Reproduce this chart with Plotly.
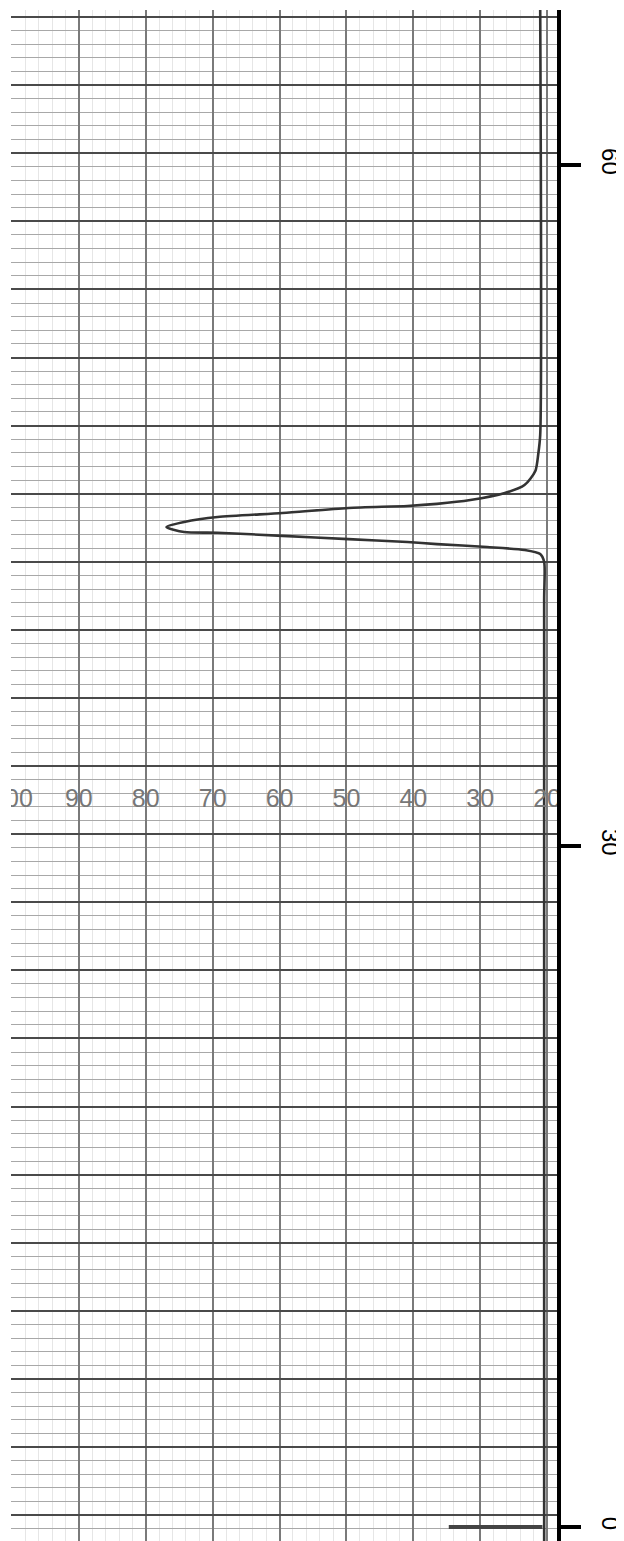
import plotly.graph_objects as go

# Chromatogram trace (time in min, recorder signal %)
time_min = [-0.62, 40.84, 42.51, 42.86, 43.04, 43.17, 43.30, 43.39, 43.52, 43.66,
            43.80, 43.83, 44.05, 44.27, 44.49, 44.67, 44.89, 44.98, 45.07, 45.24,
            45.55, 45.90, 46.52, 47.27, 48.11, 66.83]
signal = [20.44, 20.44, 20.44, 21.03, 23.38, 28.97, 36.47, 40.88, 49.71, 59.56,
          69.26, 74.26, 76.91, 74.26, 69.26, 59.56, 49.71, 40.88, 36.47, 31.47,
          26.32, 23.38, 21.76, 21.32, 21.03, 21.03]

# Injection mark at the start of the run
mark_time = [0.0, 0.0]
mark_signal = [20.7, 34.7]

# Printed scale of the recorder paper
scale_values = [100, 90, 80, 70, 60, 50, 40, 30, 20]
scale_labels = ["100", "90", "80", "70", "60", "50", "40", "30", "20"]
scale_row = 32.0

time_ticks = [0, 30, 60]
time_range = [-0.62, 66.83]
signal_range = [100.15, 18.52]

fig = go.Figure()

fig.add_trace(go.Scatter(
    x=scale_values, y=[scale_row] * len(scale_values), text=scale_labels,
    mode="text", textfont=dict(family="Liberation Sans, Arial", size=25, color="#777777"),
    textposition="middle center", yaxis="y2", hoverinfo="skip", showlegend=False,
))

fig.add_trace(go.Scatter(
    x=mark_signal, y=mark_time, mode="lines",
    line=dict(color="#444444", width=4), showlegend=False, hoverinfo="skip",
))

fig.add_trace(go.Scatter(
    x=signal, y=time_min, mode="lines",
    line=dict(color="#333333", width=2.6, shape="spline", smoothing=0.7),
    showlegend=False,
))

# The page body has an 8px margin, so the figure is sized to fit the window
fig.update_layout(
    width=616, height=1533,
    margin=dict(l=3, r=62, t=2, b=0),
    paper_bgcolor="white", plot_bgcolor="white",
    xaxis=dict(
        range=signal_range, showticklabels=False, ticks="", showline=False, zeroline=False,
        tick0=0, dtick=10, showgrid=True, gridcolor="#7a7a7a", gridwidth=1.5,
        minor=dict(tick0=0, dtick=2, showgrid=True, gridcolor="#e6e6e6", gridwidth=1),
    ),
    yaxis=dict(
        range=time_range, side="right", tickmode="array", tickvals=time_ticks,
        ticktext=[str(v) for v in time_ticks], tickangle=90,
        ticks="outside", ticklen=20, tickwidth=3.5, tickcolor="black",
        showline=True, linecolor="black", linewidth=3.5, mirror=False,
        showgrid=False, zeroline=False, ticklabelstandoff=12,
        tickfont=dict(family="Liberation Sans, Arial", size=24, color="black"),
    ),
    yaxis2=dict(
        range=time_range, overlaying="y", side="left", showticklabels=False,
        ticks="", showline=False, zeroline=False,
        tick0=0.52, dtick=3, showgrid=True, gridcolor="#4a4a4a", gridwidth=2.4,
        minor=dict(tick0=0.52, dtick=0.6, showgrid=True, gridcolor="#a8a8a8", gridwidth=1.3),
    ),
)

fig.write_html("out.html")
